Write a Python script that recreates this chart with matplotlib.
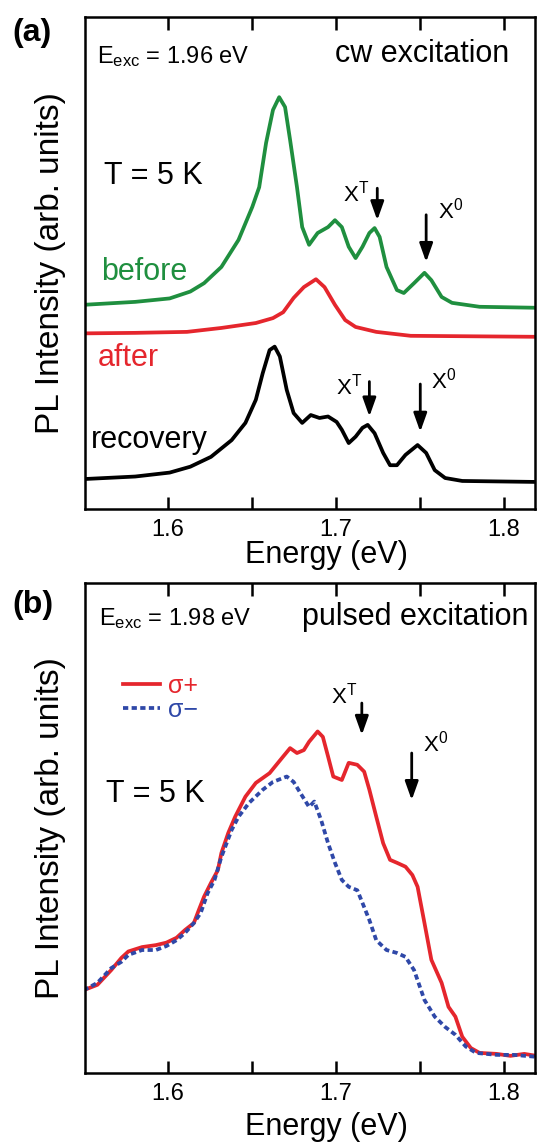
import matplotlib
matplotlib.use('Agg')
import matplotlib.pyplot as plt

plt.rcParams['font.family'] = ['Liberation Sans', 'DejaVu Sans']
plt.rcParams['mathtext.fontset'] = 'custom'
plt.rcParams['mathtext.rm'] = 'Liberation Sans'
plt.rcParams['mathtext.it'] = 'Liberation Sans:italic'
plt.rcParams['mathtext.bf'] = 'Liberation Sans:bold'

# ---- panel (a): cw excitation, arb. units ----
E_before = [1.5498, 1.5805, 1.6010, 1.6133, 1.6215, 1.6318, 1.6420, 1.6502, 1.6543,
            1.6584, 1.6625, 1.6662, 1.6697, 1.6727, 1.6768, 1.6799, 1.6840, 1.6891,
            1.6953, 1.6994, 1.7035, 1.7076, 1.7117, 1.7158, 1.7199, 1.7230, 1.7260,
            1.7301, 1.7363, 1.7404, 1.7465, 1.7527, 1.7568, 1.7629, 1.7691, 1.7855, 1.8193]
I_before = [4.15, 4.21, 4.28, 4.42, 4.59, 4.92, 5.47, 6.14, 6.54,
            7.44, 8.11, 8.37, 8.17, 7.50, 6.54, 5.73, 5.37, 5.61,
            5.73, 5.87, 5.73, 5.33, 5.10, 5.33, 5.61, 5.71, 5.53,
            4.92, 4.45, 4.39, 4.59, 4.80, 4.65, 4.31, 4.19, 4.11, 4.09]

E_after = [1.5510, 1.5805, 1.6113, 1.6318, 1.6523, 1.6625, 1.6686, 1.6748, 1.6809,
           1.6881, 1.6932, 1.6994, 1.7055, 1.7117, 1.7240, 1.7445, 1.8193]
I_after = [3.57, 3.58, 3.60, 3.68, 3.78, 3.88, 4.00, 4.29, 4.51,
           4.67, 4.51, 4.15, 3.84, 3.70, 3.60, 3.52, 3.50]

E_recov = [1.5508, 1.5805, 1.6010, 1.6133, 1.6256, 1.6379, 1.6461, 1.6523, 1.6564,
           1.6605, 1.6635, 1.6666, 1.6707, 1.6748, 1.6799, 1.6850, 1.6902, 1.6953,
           1.7004, 1.7035, 1.7076, 1.7117, 1.7158, 1.7189, 1.7230, 1.7281, 1.7322,
           1.7363, 1.7414, 1.7486, 1.7537, 1.7588, 1.7650, 1.7752, 1.8193]
I_recov = [0.61, 0.66, 0.74, 0.86, 1.06, 1.40, 1.75, 2.22, 2.76,
           3.23, 3.30, 3.10, 2.42, 1.95, 1.75, 1.91, 1.85, 1.88,
           1.77, 1.61, 1.34, 1.47, 1.65, 1.71, 1.54, 1.14, 0.89,
           0.89, 1.10, 1.30, 1.14, 0.79, 0.63, 0.57, 0.55]

# ---- panel (b): pulsed excitation ----
E_plus = [1.5498, 1.5580, 1.5662, 1.5723, 1.5764, 1.5846, 1.5928, 1.5990, 1.6051,
          1.6102, 1.6154, 1.6184, 1.6215, 1.6256, 1.6297, 1.6318, 1.6359, 1.6400,
          1.6461, 1.6523, 1.6605, 1.6686, 1.6727, 1.6768, 1.6809, 1.6840, 1.6891,
          1.6922, 1.6953, 1.6984, 1.7035, 1.7076, 1.7127, 1.7168, 1.7199, 1.7240,
          1.7281, 1.7322, 1.7363, 1.7414, 1.7455, 1.7486, 1.7527, 1.7568, 1.7629,
          1.7670, 1.7711, 1.7752, 1.7803, 1.7855, 1.7957, 1.8039, 1.8121, 1.8193]
I_plus = [1.69, 1.80, 2.10, 2.35, 2.48, 2.57, 2.61, 2.66, 2.76,
          2.92, 3.06, 3.33, 3.60, 3.88, 4.14, 4.49, 4.90, 5.23,
          5.64, 5.92, 6.12, 6.46, 6.63, 6.53, 6.59, 6.76, 6.97,
          6.86, 6.46, 6.05, 5.98, 6.33, 6.29, 6.15, 5.78, 5.23,
          4.69, 4.35, 4.29, 4.21, 4.04, 3.80, 3.06, 2.31, 1.84,
          1.35, 1.15, 0.74, 0.51, 0.41, 0.39, 0.35, 0.39, 0.35]

E_minus = [1.5498, 1.5580, 1.5662, 1.5723, 1.5764, 1.5846, 1.5928, 1.5990, 1.6051,
           1.6102, 1.6154, 1.6195, 1.6236, 1.6277, 1.6318, 1.6379, 1.6420, 1.6482,
           1.6564, 1.6625, 1.6707, 1.6748, 1.6789, 1.6840, 1.6871, 1.6912, 1.6953,
           1.6994, 1.7035, 1.7076, 1.7127, 1.7158, 1.7199, 1.7240, 1.7301, 1.7363,
           1.7414, 1.7465, 1.7527, 1.7588, 1.7650, 1.7711, 1.7773, 1.7834, 1.7957,
           1.8059, 1.8193]
I_minus = [1.69, 1.84, 2.14, 2.27, 2.41, 2.51, 2.51, 2.59, 2.71,
           2.86, 3.06, 3.27, 3.67, 3.94, 4.41, 4.96, 5.23, 5.51,
           5.78, 5.94, 6.05, 5.94, 5.71, 5.43, 5.54, 5.16, 4.69,
           4.29, 3.94, 3.80, 3.73, 3.47, 3.12, 2.71, 2.51, 2.45,
           2.37, 2.10, 1.49, 1.15, 0.94, 0.78, 0.54, 0.41, 0.37,
           0.37, 0.33]

# arrow marks: (label x, label y, arrow x, arrow top, arrow tip, label)
marks_a = [(1.7040, 6.25, 1.7246, 6.52, 5.87, r'X$^{\mathrm{T}}$'),
           (1.7609, 5.91, 1.7537, 5.98, 5.02, r'X$^{0}$'),
           (1.7000, 2.32, 1.7199, 2.59, 1.88, r'X$^{\mathrm{T}}$'),
           (1.7568, 2.45, 1.7502, 2.54, 1.57, r'X$^{0}$')]
marks_b = [(1.6970, 7.54, 1.7154, 7.55, 6.90, r'X$^{\mathrm{T}}$'),
           (1.7516, 6.56, 1.7451, 6.53, 5.57, r'X$^{0}$')]

GREEN = '#1f8f3f'
RED = '#e5262d'
BLUE = '#2f48a8'

W, H = 537, 1143
fig = plt.figure(figsize=(W / 100, H / 100), dpi=100)
ax_a = fig.add_axes([85 / W, 1 - 509 / H, 450 / W, 492 / H])
ax_b = fig.add_axes([85 / W, 1 - 1073 / H, 450 / W, 490 / H])

lw = 2.7
ax_a.plot(E_before, I_before, color=GREEN, lw=lw)
ax_a.plot(E_after, I_after, color=RED, lw=lw)
ax_a.plot(E_recov, I_recov, color='black', lw=lw)

ax_b.plot(E_plus, I_plus, color=RED, lw=lw, label='σ+')
ax_b.plot(E_minus, I_minus, color=BLUE, lw=lw, ls=(0, (1.4, 0.9)), label='σ−')


def draw_marks(ax, marks):
    for lx, ly, ax_x, y0, y1, txt in marks:
        ax.text(lx, ly, txt, fontsize=16, va='baseline', ha='left')
        ax.annotate('', xy=(ax_x, y1), xytext=(ax_x, y0),
                    arrowprops=dict(arrowstyle='-|>,head_length=0.7,head_width=0.25',
                                    color='black', lw=2.0, mutation_scale=16,
                                    shrinkA=0, shrinkB=0))


draw_marks(ax_a, marks_a)
draw_marks(ax_b, marks_b)

for ax in (ax_a, ax_b):
    ax.set_xlim(1.5506, 1.8185)
    ax.set_ylim(0, 10)
    ax.set_xticks([1.6, 1.7, 1.8])
    ax.set_xticks([1.65, 1.75], minor=True)
    ax.set_xticklabels(['1.6', '1.7', '1.8'])
    ax.set_yticks([])
    ax.tick_params(axis='x', which='both', direction='in', top=True, length=9,
                   width=1.8, labelsize=17, pad=7)
    for s in ax.spines.values():
        s.set_linewidth(1.8)
    ax.set_xlabel('Energy (eV)', fontsize=22, va='center')

ax_a.xaxis.set_label_coords(0.536, -46 / 492)
ax_b.xaxis.set_label_coords(0.536, -54 / 490)

# panel (a) texts
ta = ax_a.transAxes
ax_a.text(0.027, 0.906, r'E$_{\mathrm{exc}}$ = 1.96 eV', transform=ta, fontsize=17, va='baseline')
ax_a.text(0.942, 0.909, 'cw excitation', transform=ta, fontsize=22, va='baseline', ha='right')
ax_a.text(0.042, 0.661, 'T = 5 K', transform=ta, fontsize=22, va='baseline')
ax_a.text(0.036, 0.465, 'before', transform=ta, fontsize=22, va='baseline', color=GREEN)
ax_a.text(0.028, 0.291, 'after', transform=ta, fontsize=22, va='baseline', color=RED)
ax_a.text(0.012, 0.123, 'recovery', transform=ta, fontsize=22, va='baseline')

# panel (b) texts
tb = ax_b.transAxes
ax_b.text(0.031, 0.914, r'E$_{\mathrm{exc}}$ = 1.98 eV', transform=tb, fontsize=17, va='baseline')
ax_b.text(0.985, 0.914, 'pulsed excitation', transform=tb, fontsize=22, va='baseline', ha='right')
ax_b.text(0.047, 0.554, 'T = 5 K', transform=tb, fontsize=22, va='baseline')

ax_b.legend(loc='upper left', bbox_to_anchor=(0.084, 0.815), frameon=False,
            fontsize=18, handlelength=1.5, handletextpad=0.3, labelspacing=0.0,
            borderpad=0, borderaxespad=0, labelcolor='linecolor')

# y labels and panel letters
fig.text(51 / W, 1 - 263 / H, 'PL Intensity (arb. units)', rotation=90,
         ha='center', va='center', fontsize=24)
fig.text(51 / W, 1 - 828 / H, 'PL Intensity (arb. units)', rotation=90,
         ha='center', va='center', fontsize=24)
fig.text(12 / W, 1 - 18 / H, '(a)', fontsize=23, fontweight='bold', va='top', ha='left')
fig.text(12 / W, 1 - 590 / H, '(b)', fontsize=23, fontweight='bold', va='top', ha='left')

fig.savefig('out.png', dpi=100)
